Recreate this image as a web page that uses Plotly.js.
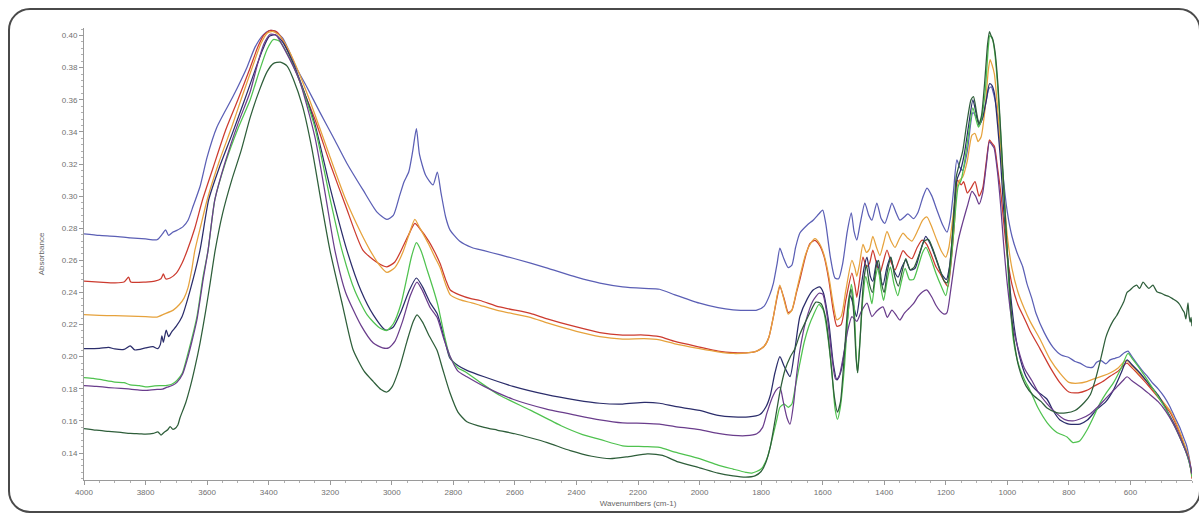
<!DOCTYPE html>
<html>
<head>
<meta charset="utf-8">
<script src="https://cdn.plot.ly/plotly-3.0.1.min.js"></script>
<style>
html,body{margin:0;padding:0;background:#fff;overflow:hidden;}
#wrap{position:relative;width:1199px;height:515px;}
#chart{position:absolute;left:0;top:0;width:1199px;height:515px;}
#frame{position:absolute;left:8px;top:8px;width:1193px;height:505px;border:2px solid #4a4a4a;border-radius:22px;box-sizing:border-box;pointer-events:none;}
</style>
</head>
<body>
<div id="wrap"><div id="chart"></div><div id="frame"></div></div>
<script>
// Tick labels
const xTicks = [4000,3800,3600,3400,3200,3000,2800,2600,2400,2200,2000,1800,1600,1400,1200,1000,800,600];
const yTicks = [0.14,0.16,0.18,0.20,0.22,0.24,0.26,0.28,0.30,0.32,0.34,0.36,0.38,0.40];

// Spectra: [wavenumber (cm-1), absorbance]
const blue = [[4000,0.2765],[3950,0.2755],[3900,0.275],[3850,0.274],[3800,0.2733],[3763,0.2728],[3745,0.2765],[3735,0.279],[3725,0.2755],[3712,0.2775],[3700,0.2785],[3678,0.281],[3662,0.285],[3645,0.294],[3623,0.306],[3600,0.3243],[3568,0.343],[3516,0.362],[3471,0.38],[3445,0.3925],[3420,0.4],[3400,0.403],[3380,0.4028],[3355,0.3985],[3335,0.391],[3310,0.38],[3276,0.368],[3233,0.352],[3191,0.337],[3146,0.3205],[3094,0.304],[3048,0.29],[3016,0.2855],[2995,0.288],[2975,0.3],[2960,0.309],[2945,0.315],[2932,0.328],[2920,0.342],[2910,0.326],[2890,0.313],[2866,0.307],[2852,0.315],[2840,0.302],[2825,0.287],[2811,0.279],[2780,0.272],[2740,0.268],[2700,0.266],[2650,0.2635],[2600,0.261],[2500,0.2555],[2400,0.2495],[2324,0.2458],[2250,0.2435],[2180,0.2425],[2130,0.242],[2080,0.2385],[2000,0.2333],[1940,0.2305],[1891,0.2292],[1840,0.2288],[1814,0.229],[1790,0.2315],[1772,0.2385],[1760,0.2458],[1748,0.258],[1739,0.2676],[1728,0.262],[1712,0.2555],[1700,0.257],[1688,0.268],[1674,0.277],[1650,0.282],[1631,0.285],[1612,0.289],[1600,0.2913],[1590,0.283],[1575,0.262],[1560,0.249],[1548,0.2485],[1535,0.258],[1520,0.278],[1507,0.2895],[1498,0.278],[1489,0.2726],[1478,0.283],[1463,0.2957],[1450,0.288],[1440,0.285],[1424,0.2957],[1410,0.286],[1398,0.283],[1385,0.29],[1375,0.2957],[1360,0.289],[1349,0.285],[1335,0.287],[1323,0.289],[1305,0.286],[1290,0.29],[1275,0.299],[1261,0.305],[1245,0.3],[1230,0.292],[1210,0.282],[1196,0.2775],[1185,0.286],[1175,0.303],[1164,0.3225],[1155,0.318],[1145,0.316],[1130,0.328],[1112,0.352],[1100,0.349],[1090,0.345],[1078,0.35],[1060,0.367],[1052,0.368],[1045,0.364],[1035,0.355],[1025,0.338],[1015,0.315],[1000,0.29],[985,0.275],[969,0.265],[950,0.256],[937,0.246],[920,0.236],[907,0.227],[880,0.215],[852,0.206],[825,0.201],[800,0.1995],[780,0.197],[764,0.196],[740,0.1935],[722,0.1935],[710,0.1965],[695,0.1975],[680,0.1955],[666,0.198],[650,0.199],[635,0.2],[620,0.2025],[608,0.2035],[595,0.2],[580,0.196],[560,0.191],[546,0.188],[530,0.184],[510,0.18],[490,0.175],[472,0.169],[455,0.162],[440,0.156],[428,0.15],[418,0.145],[410,0.138],[404,0.131],[400,0.126]];

const red = [[4000,0.247],[3950,0.2465],[3900,0.246],[3870,0.2465],[3855,0.2495],[3848,0.2465],[3800,0.2465],[3770,0.247],[3750,0.2485],[3742,0.2515],[3735,0.2485],[3720,0.249],[3700,0.252],[3682,0.258],[3665,0.266],[3640,0.28],[3615,0.2976],[3580,0.318],[3540,0.341],[3500,0.36],[3460,0.38],[3435,0.393],[3415,0.4005],[3395,0.4032],[3375,0.4025],[3355,0.3975],[3330,0.387],[3300,0.372],[3250,0.348],[3200,0.32],[3150,0.294],[3094,0.2664],[3050,0.259],[3016,0.256],[2990,0.259],[2965,0.268],[2945,0.276],[2925,0.283],[2910,0.28],[2880,0.272],[2860,0.265],[2843,0.258],[2825,0.248],[2810,0.2415],[2780,0.2385],[2740,0.236],[2713,0.235],[2650,0.231],[2550,0.227],[2495,0.2235],[2400,0.2185],[2324,0.215],[2250,0.2135],[2180,0.2135],[2130,0.2125],[2080,0.2095],[2000,0.206],[1940,0.2035],[1891,0.2025],[1840,0.2025],[1814,0.2035],[1790,0.2065],[1775,0.212],[1760,0.225],[1748,0.237],[1739,0.2437],[1725,0.236],[1712,0.2275],[1700,0.229],[1685,0.24],[1674,0.248],[1655,0.263],[1641,0.2705],[1625,0.2725],[1609,0.269],[1595,0.262],[1580,0.2477],[1565,0.228],[1554,0.219],[1540,0.22],[1525,0.235],[1505,0.252],[1495,0.244],[1489,0.237],[1480,0.248],[1469,0.262],[1458,0.256],[1448,0.258],[1437,0.2664],[1425,0.258],[1414,0.252],[1403,0.259],[1391,0.2664],[1378,0.259],[1365,0.254],[1352,0.26],[1339,0.266],[1325,0.263],[1310,0.261],[1293,0.268],[1277,0.2726],[1262,0.27],[1248,0.264],[1232,0.256],[1219,0.252],[1205,0.247],[1193,0.2437],[1183,0.258],[1172,0.283],[1162,0.31],[1150,0.307],[1142,0.309],[1130,0.302],[1118,0.305],[1105,0.309],[1092,0.3],[1080,0.305],[1068,0.322],[1058,0.335],[1050,0.333],[1042,0.331],[1032,0.318],[1020,0.3],[1010,0.28],[1000,0.262],[985,0.245],[965,0.232],[945,0.224],[926,0.216],[894,0.205],[860,0.193],[830,0.184],[800,0.178],[770,0.1775],[742,0.179],[715,0.182],[690,0.1845],[665,0.188],[640,0.191],[620,0.195],[611,0.196],[595,0.193],[575,0.189],[546,0.183],[520,0.177],[495,0.171],[470,0.165],[450,0.157],[435,0.15],[420,0.142],[410,0.136],[404,0.13],[400,0.124]];

const orange = [[4000,0.2262],[3950,0.2258],[3900,0.2255],[3850,0.2252],[3800,0.225],[3763,0.2247],[3740,0.2265],[3710,0.229],[3690,0.2325],[3675,0.2365],[3662,0.243],[3650,0.254],[3640,0.266],[3620,0.282],[3600,0.2976],[3560,0.322],[3520,0.343],[3490,0.36],[3450,0.382],[3425,0.395],[3405,0.4015],[3385,0.4025],[3362,0.3995],[3335,0.391],[3300,0.376],[3250,0.351],[3200,0.324],[3150,0.298],[3100,0.277],[3071,0.2664],[3040,0.257],[3016,0.2525],[2990,0.2555],[2965,0.2645],[2945,0.2755],[2925,0.2855],[2910,0.2805],[2880,0.27],[2860,0.262],[2843,0.2555],[2825,0.245],[2810,0.2385],[2780,0.2355],[2740,0.2335],[2713,0.232],[2650,0.2285],[2550,0.2245],[2495,0.221],[2400,0.2158],[2324,0.2125],[2250,0.211],[2180,0.2112],[2130,0.2105],[2080,0.208],[2000,0.205],[1940,0.203],[1891,0.202],[1840,0.2025],[1814,0.2035],[1790,0.2065],[1775,0.212],[1760,0.225],[1748,0.238],[1739,0.2445],[1725,0.235],[1712,0.2265],[1700,0.229],[1685,0.241],[1674,0.25],[1655,0.264],[1641,0.27],[1625,0.2735],[1609,0.27],[1595,0.263],[1580,0.25],[1565,0.232],[1554,0.223],[1540,0.225],[1525,0.241],[1505,0.26],[1495,0.255],[1489,0.25],[1480,0.258],[1469,0.27],[1458,0.265],[1448,0.267],[1437,0.275],[1425,0.268],[1414,0.263],[1403,0.27],[1391,0.278],[1378,0.272],[1365,0.268],[1352,0.273],[1339,0.277],[1325,0.274],[1310,0.272],[1290,0.279],[1275,0.285],[1261,0.287],[1248,0.282],[1232,0.274],[1215,0.266],[1200,0.262],[1190,0.268],[1178,0.285],[1165,0.305],[1155,0.31],[1145,0.312],[1130,0.322],[1115,0.338],[1105,0.339],[1095,0.334],[1085,0.337],[1072,0.355],[1062,0.378],[1056,0.385],[1050,0.382],[1042,0.376],[1032,0.355],[1020,0.325],[1010,0.298],[1000,0.275],[985,0.255],[965,0.24],[945,0.23],[926,0.222],[894,0.211],[860,0.198],[830,0.19],[800,0.184],[770,0.1835],[742,0.1845],[715,0.1865],[690,0.188],[665,0.19],[640,0.193],[620,0.197],[611,0.1975],[595,0.1945],[575,0.19],[546,0.1845],[520,0.178],[495,0.172],[470,0.166],[450,0.158],[435,0.151],[420,0.143],[410,0.137],[404,0.131],[400,0.125]];

const navy = [[4000,0.205],[3950,0.2052],[3920,0.2058],[3900,0.2048],[3870,0.2045],[3850,0.2068],[3835,0.2042],[3800,0.2055],[3776,0.2062],[3760,0.205],[3752,0.2075],[3747,0.213],[3742,0.209],[3733,0.2165],[3725,0.2125],[3715,0.2155],[3700,0.219],[3682,0.2247],[3655,0.2415],[3623,0.2664],[3595,0.2976],[3560,0.318],[3520,0.338],[3478,0.36],[3445,0.378],[3420,0.391],[3398,0.3995],[3378,0.4005],[3355,0.396],[3330,0.387],[3300,0.373],[3250,0.345],[3200,0.305],[3146,0.2664],[3100,0.241],[3060,0.226],[3020,0.2165],[2995,0.2185],[2970,0.228],[2945,0.2405],[2920,0.249],[2900,0.2435],[2875,0.2335],[2853,0.227],[2830,0.212],[2811,0.199],[2785,0.1945],[2756,0.1915],[2700,0.1875],[2606,0.1815],[2500,0.1765],[2400,0.173],[2324,0.171],[2250,0.1705],[2180,0.1715],[2130,0.171],[2080,0.169],[2000,0.1665],[1940,0.1635],[1891,0.1625],[1840,0.1625],[1804,0.164],[1785,0.1685],[1770,0.176],[1755,0.19],[1739,0.2],[1725,0.194],[1706,0.1876],[1690,0.205],[1674,0.225],[1650,0.236],[1631,0.2415],[1610,0.2435],[1598,0.24],[1580,0.221],[1565,0.195],[1554,0.1855],[1542,0.19],[1528,0.205],[1510,0.238],[1500,0.232],[1490,0.225],[1478,0.24],[1465,0.256],[1456,0.262],[1445,0.25],[1437,0.247],[1424,0.26],[1414,0.25],[1404,0.2445],[1392,0.255],[1380,0.262],[1367,0.253],[1355,0.2495],[1342,0.256],[1330,0.26],[1315,0.254],[1300,0.255],[1282,0.266],[1265,0.275],[1250,0.27],[1232,0.261],[1215,0.252],[1198,0.248],[1188,0.256],[1176,0.28],[1164,0.31],[1152,0.316],[1140,0.326],[1125,0.345],[1112,0.36],[1102,0.352],[1092,0.344],[1080,0.349],[1068,0.36],[1058,0.37],[1050,0.369],[1042,0.364],[1032,0.345],[1022,0.322],[1012,0.292],[1000,0.265],[990,0.24],[975,0.215],[960,0.2],[940,0.188],[920,0.182],[900,0.178],[871,0.1735],[850,0.166],[829,0.1605],[800,0.158],[764,0.158],[740,0.1605],[710,0.167],[680,0.172],[656,0.179],[630,0.19],[611,0.198],[595,0.195],[570,0.19],[540,0.183],[510,0.176],[480,0.166],[455,0.157],[435,0.148],[420,0.141],[410,0.135],[404,0.13],[400,0.126]];

const lightGreen = [[4000,0.187],[3970,0.1865],[3940,0.1855],[3900,0.1842],[3870,0.1838],[3850,0.1825],[3820,0.182],[3800,0.1812],[3770,0.1818],[3745,0.182],[3730,0.1822],[3715,0.1828],[3698,0.1852],[3680,0.19],[3665,0.2],[3650,0.211],[3633,0.225],[3613,0.25],[3597,0.266],[3575,0.2976],[3540,0.321],[3500,0.342],[3460,0.36],[3430,0.378],[3405,0.3915],[3385,0.3975],[3365,0.3965],[3340,0.389],[3300,0.372],[3250,0.343],[3200,0.298],[3162,0.2664],[3120,0.241],[3080,0.226],[3040,0.218],[3016,0.2163],[2995,0.2205],[2970,0.233],[2950,0.25],[2935,0.263],[2920,0.271],[2905,0.266],[2885,0.254],[2865,0.242],[2850,0.232],[2830,0.214],[2811,0.2],[2785,0.193],[2760,0.1905],[2713,0.184],[2650,0.176],[2550,0.1667],[2450,0.157],[2380,0.1515],[2324,0.1485],[2250,0.1445],[2180,0.144],[2130,0.1435],[2080,0.1405],[2000,0.1365],[1940,0.1325],[1891,0.13],[1850,0.128],[1830,0.1275],[1800,0.13],[1780,0.137],[1765,0.148],[1750,0.16],[1739,0.1685],[1725,0.1705],[1712,0.1685],[1700,0.1705],[1690,0.18],[1675,0.195],[1660,0.209],[1645,0.219],[1630,0.226],[1612,0.2325],[1598,0.229],[1585,0.215],[1570,0.19],[1560,0.168],[1552,0.161],[1543,0.168],[1530,0.192],[1518,0.225],[1507,0.245],[1498,0.232],[1492,0.205],[1487,0.19],[1480,0.207],[1470,0.235],[1460,0.25],[1448,0.24],[1440,0.233],[1428,0.25],[1420,0.255],[1410,0.242],[1402,0.235],[1390,0.248],[1380,0.256],[1368,0.245],[1356,0.238],[1344,0.247],[1332,0.255],[1318,0.248],[1305,0.248],[1290,0.256],[1275,0.265],[1264,0.268],[1250,0.262],[1232,0.252],[1215,0.244],[1200,0.238],[1190,0.248],[1180,0.265],[1168,0.292],[1160,0.306],[1150,0.31],[1140,0.32],[1125,0.34],[1112,0.355],[1102,0.348],[1094,0.343],[1084,0.348],[1072,0.365],[1062,0.392],[1057,0.4],[1052,0.399],[1047,0.397],[1040,0.388],[1032,0.37],[1022,0.34],[1012,0.305],[1002,0.27],[992,0.235],[980,0.21],[965,0.196],[945,0.186],[926,0.179],[900,0.168],[871,0.159],[840,0.153],[806,0.15],[787,0.1465],[765,0.1475],[742,0.154],[720,0.1625],[699,0.171],[680,0.177],[656,0.1835],[630,0.193],[608,0.202],[595,0.199],[575,0.194],[550,0.187],[520,0.178],[490,0.169],[465,0.16],[440,0.15],[422,0.142],[410,0.135],[404,0.13],[400,0.125]];

const purple = [[4000,0.182],[3960,0.1815],[3920,0.1808],[3880,0.1802],[3850,0.1798],[3820,0.1792],[3800,0.179],[3770,0.1795],[3745,0.1798],[3730,0.181],[3712,0.1822],[3698,0.184],[3680,0.189],[3665,0.198],[3650,0.209],[3633,0.223],[3613,0.248],[3597,0.266],[3575,0.2976],[3540,0.322],[3500,0.345],[3460,0.365],[3435,0.383],[3415,0.395],[3395,0.4008],[3375,0.4],[3350,0.392],[3300,0.372],[3250,0.337],[3215,0.3],[3185,0.2664],[3150,0.24],[3100,0.2195],[3060,0.2085],[3030,0.2055],[3010,0.2055],[2990,0.2095],[2965,0.222],[2940,0.238],[2918,0.2465],[2900,0.241],[2875,0.2305],[2853,0.2245],[2830,0.2105],[2811,0.2005],[2785,0.191],[2756,0.1875],[2700,0.1815],[2606,0.1735],[2500,0.1675],[2400,0.1635],[2324,0.1607],[2250,0.1588],[2180,0.1585],[2130,0.158],[2080,0.1565],[2000,0.1545],[1940,0.1522],[1891,0.151],[1850,0.1508],[1814,0.152],[1795,0.156],[1781,0.165],[1765,0.174],[1750,0.1795],[1739,0.181],[1728,0.172],[1716,0.162],[1706,0.158],[1695,0.17],[1685,0.188],[1674,0.204],[1655,0.222],[1631,0.235],[1612,0.2395],[1600,0.239],[1585,0.225],[1570,0.2],[1558,0.186],[1548,0.187],[1535,0.198],[1520,0.215],[1505,0.225],[1489,0.222],[1475,0.228],[1456,0.2333],[1440,0.225],[1424,0.2285],[1404,0.231],[1390,0.2245],[1375,0.229],[1362,0.226],[1349,0.2228],[1335,0.227],[1320,0.23],[1305,0.233],[1290,0.2375],[1275,0.2405],[1261,0.2415],[1245,0.237],[1232,0.232],[1219,0.2285],[1205,0.2265],[1196,0.2275],[1185,0.24],[1172,0.258],[1160,0.272],[1150,0.28],[1140,0.287],[1128,0.295],[1115,0.303],[1103,0.3],[1092,0.295],[1080,0.302],[1068,0.32],[1058,0.334],[1050,0.332],[1043,0.33],[1032,0.315],[1022,0.295],[1012,0.27],[1000,0.245],[985,0.222],[965,0.205],[945,0.193],[920,0.185],[900,0.178],[870,0.1705],[842,0.165],[815,0.161],[787,0.16],[760,0.1615],[730,0.1645],[710,0.168],[680,0.174],[650,0.18],[625,0.185],[611,0.1875],[595,0.185],[569,0.1815],[540,0.177],[510,0.172],[485,0.166],[460,0.158],[440,0.15],[422,0.142],[410,0.136],[404,0.131],[400,0.127]];

const darkGreen = [[4000,0.1552],[3960,0.1542],[3920,0.1535],[3880,0.1528],[3850,0.1522],[3820,0.152],[3800,0.1518],[3775,0.1522],[3760,0.1532],[3750,0.1512],[3740,0.1528],[3728,0.1545],[3720,0.1565],[3712,0.1548],[3705,0.1552],[3695,0.1575],[3688,0.162],[3670,0.171],[3655,0.181],[3640,0.193],[3623,0.2085],[3605,0.228],[3590,0.246],[3574,0.266],[3550,0.289],[3520,0.31],[3490,0.328],[3460,0.349],[3430,0.366],[3405,0.3775],[3385,0.3825],[3362,0.3835],[3340,0.381],[3320,0.373],[3290,0.356],[3260,0.33],[3230,0.297],[3201,0.2664],[3160,0.232],[3126,0.2045],[3090,0.191],[3060,0.1845],[3035,0.1795],[3016,0.178],[2998,0.1815],[2975,0.193],[2950,0.21],[2930,0.222],[2918,0.226],[2900,0.2215],[2880,0.2135],[2853,0.204],[2835,0.1925],[2811,0.1775],[2785,0.1655],[2756,0.1595],[2700,0.156],[2658,0.1543],[2600,0.152],[2550,0.1495],[2495,0.1465],[2420,0.1415],[2350,0.138],[2290,0.1365],[2230,0.1378],[2170,0.1395],[2120,0.1385],[2070,0.1345],[2000,0.1308],[1940,0.1275],[1891,0.1258],[1850,0.125],[1820,0.1258],[1800,0.1285],[1785,0.134],[1770,0.144],[1755,0.16],[1739,0.178],[1722,0.192],[1705,0.2],[1690,0.205],[1674,0.214],[1655,0.222],[1640,0.228],[1622,0.234],[1605,0.233],[1590,0.224],[1575,0.2],[1562,0.175],[1552,0.1655],[1542,0.172],[1530,0.2],[1518,0.232],[1508,0.242],[1499,0.227],[1491,0.198],[1486,0.19],[1478,0.212],[1468,0.245],[1458,0.257],[1448,0.245],[1438,0.24],[1426,0.256],[1418,0.26],[1408,0.245],[1400,0.24],[1390,0.253],[1378,0.262],[1366,0.25],[1354,0.244],[1342,0.253],[1330,0.261],[1316,0.254],[1302,0.256],[1286,0.264],[1270,0.272],[1256,0.273],[1240,0.266],[1222,0.256],[1205,0.247],[1196,0.246],[1186,0.258],[1176,0.283],[1166,0.312],[1156,0.32],[1145,0.328],[1132,0.345],[1118,0.36],[1110,0.362],[1100,0.352],[1092,0.345],[1084,0.35],[1074,0.37],[1064,0.395],[1058,0.4025],[1053,0.4],[1048,0.398],[1040,0.39],[1030,0.368],[1020,0.335],[1010,0.3],[1000,0.265],[990,0.235],[978,0.21],[962,0.193],[940,0.182],[916,0.176],[890,0.172],[871,0.168],[840,0.1652],[810,0.165],[780,0.1665],[750,0.1715],[730,0.1765],[715,0.185],[700,0.196],[690,0.204],[680,0.212],[668,0.218],[656,0.2225],[645,0.2255],[634,0.2295],[622,0.234],[611,0.24],[601,0.2415],[590,0.2435],[580,0.2445],[570,0.2425],[559,0.2465],[548,0.244],[540,0.2425],[527,0.2445],[514,0.2405],[500,0.2395],[490,0.2385],[475,0.2375],[462,0.236],[450,0.2345],[440,0.2325],[430,0.229],[425,0.2275],[420,0.2235],[417,0.2275],[413,0.2335],[410,0.2265],[406,0.2215],[403,0.2245],[400,0.219]];

const seriesList = [
  {data: blue, color: '#5b5fb5'},
  {data: red, color: '#cc3b2f'},
  {data: orange, color: '#e6a23c'},
  {data: navy, color: '#2b2d6b'},
  {data: lightGreen, color: '#4fc24f'},
  {data: purple, color: '#6a3d8c'},
  {data: darkGreen, color: '#2e5e3a'}
];

const traces = seriesList.map(s => ({
  type: 'scatter',
  mode: 'lines',
  x: s.data.map(p => p[0]),
  y: s.data.map(p => p[1]),
  line: {color: s.color, width: 1.25, shape: 'spline', smoothing: 0.6},
  hoverinfo: 'skip'
}));

const axisFont = {family: 'Liberation Sans, Arial, sans-serif', size: 8, color: '#707070'};

const layout = {
  width: 1199,
  height: 515,
  margin: {l: 84, r: 7, t: 28, b: 35},
  paper_bgcolor: '#ffffff',
  plot_bgcolor: '#ffffff',
  showlegend: false,
  xaxis: {
    range: [4000, 400],
    tickmode: 'array',
    tickvals: xTicks,
    ticktext: xTicks.map(v => String(v)),
    showline: true, linecolor: '#9a9a9a', linewidth: 1,
    ticks: 'outside', ticklen: 4, tickcolor: '#9a9a9a',
    minor: {ticks: 'outside', ticklen: 2, tickcolor: '#b0b0b0', tickmode: 'linear', tick0: 0, dtick: 50},
    showgrid: false, zeroline: false,
    tickfont: axisFont,
    title: {text: 'Wavenumbers (cm-1)', font: {family: 'Liberation Sans, Arial, sans-serif', size: 8, color: '#666'}, standoff: 4},
    automargin: false
  },
  yaxis: {
    range: [0.1232, 0.4047],
    tickmode: 'array',
    tickvals: yTicks,
    ticktext: yTicks.map(v => v.toFixed(2)),
    showline: true, linecolor: '#9a9a9a', linewidth: 1,
    ticks: 'outside', ticklen: 4, tickcolor: '#9a9a9a',
    minor: {ticks: 'outside', ticklen: 2, tickcolor: '#b0b0b0', tickmode: 'linear', tick0: 0, dtick: 0.004},
    showgrid: false, zeroline: false,
    tickfont: axisFont,
    title: {text: 'Absorbance', font: {family: 'Liberation Sans, Arial, sans-serif', size: 8, color: '#666'}, standoff: 16},
    automargin: false
  }
};

Plotly.newPlot('chart', traces, layout, {displayModeBar: false, staticPlot: true});
</script>
</body>
</html>
